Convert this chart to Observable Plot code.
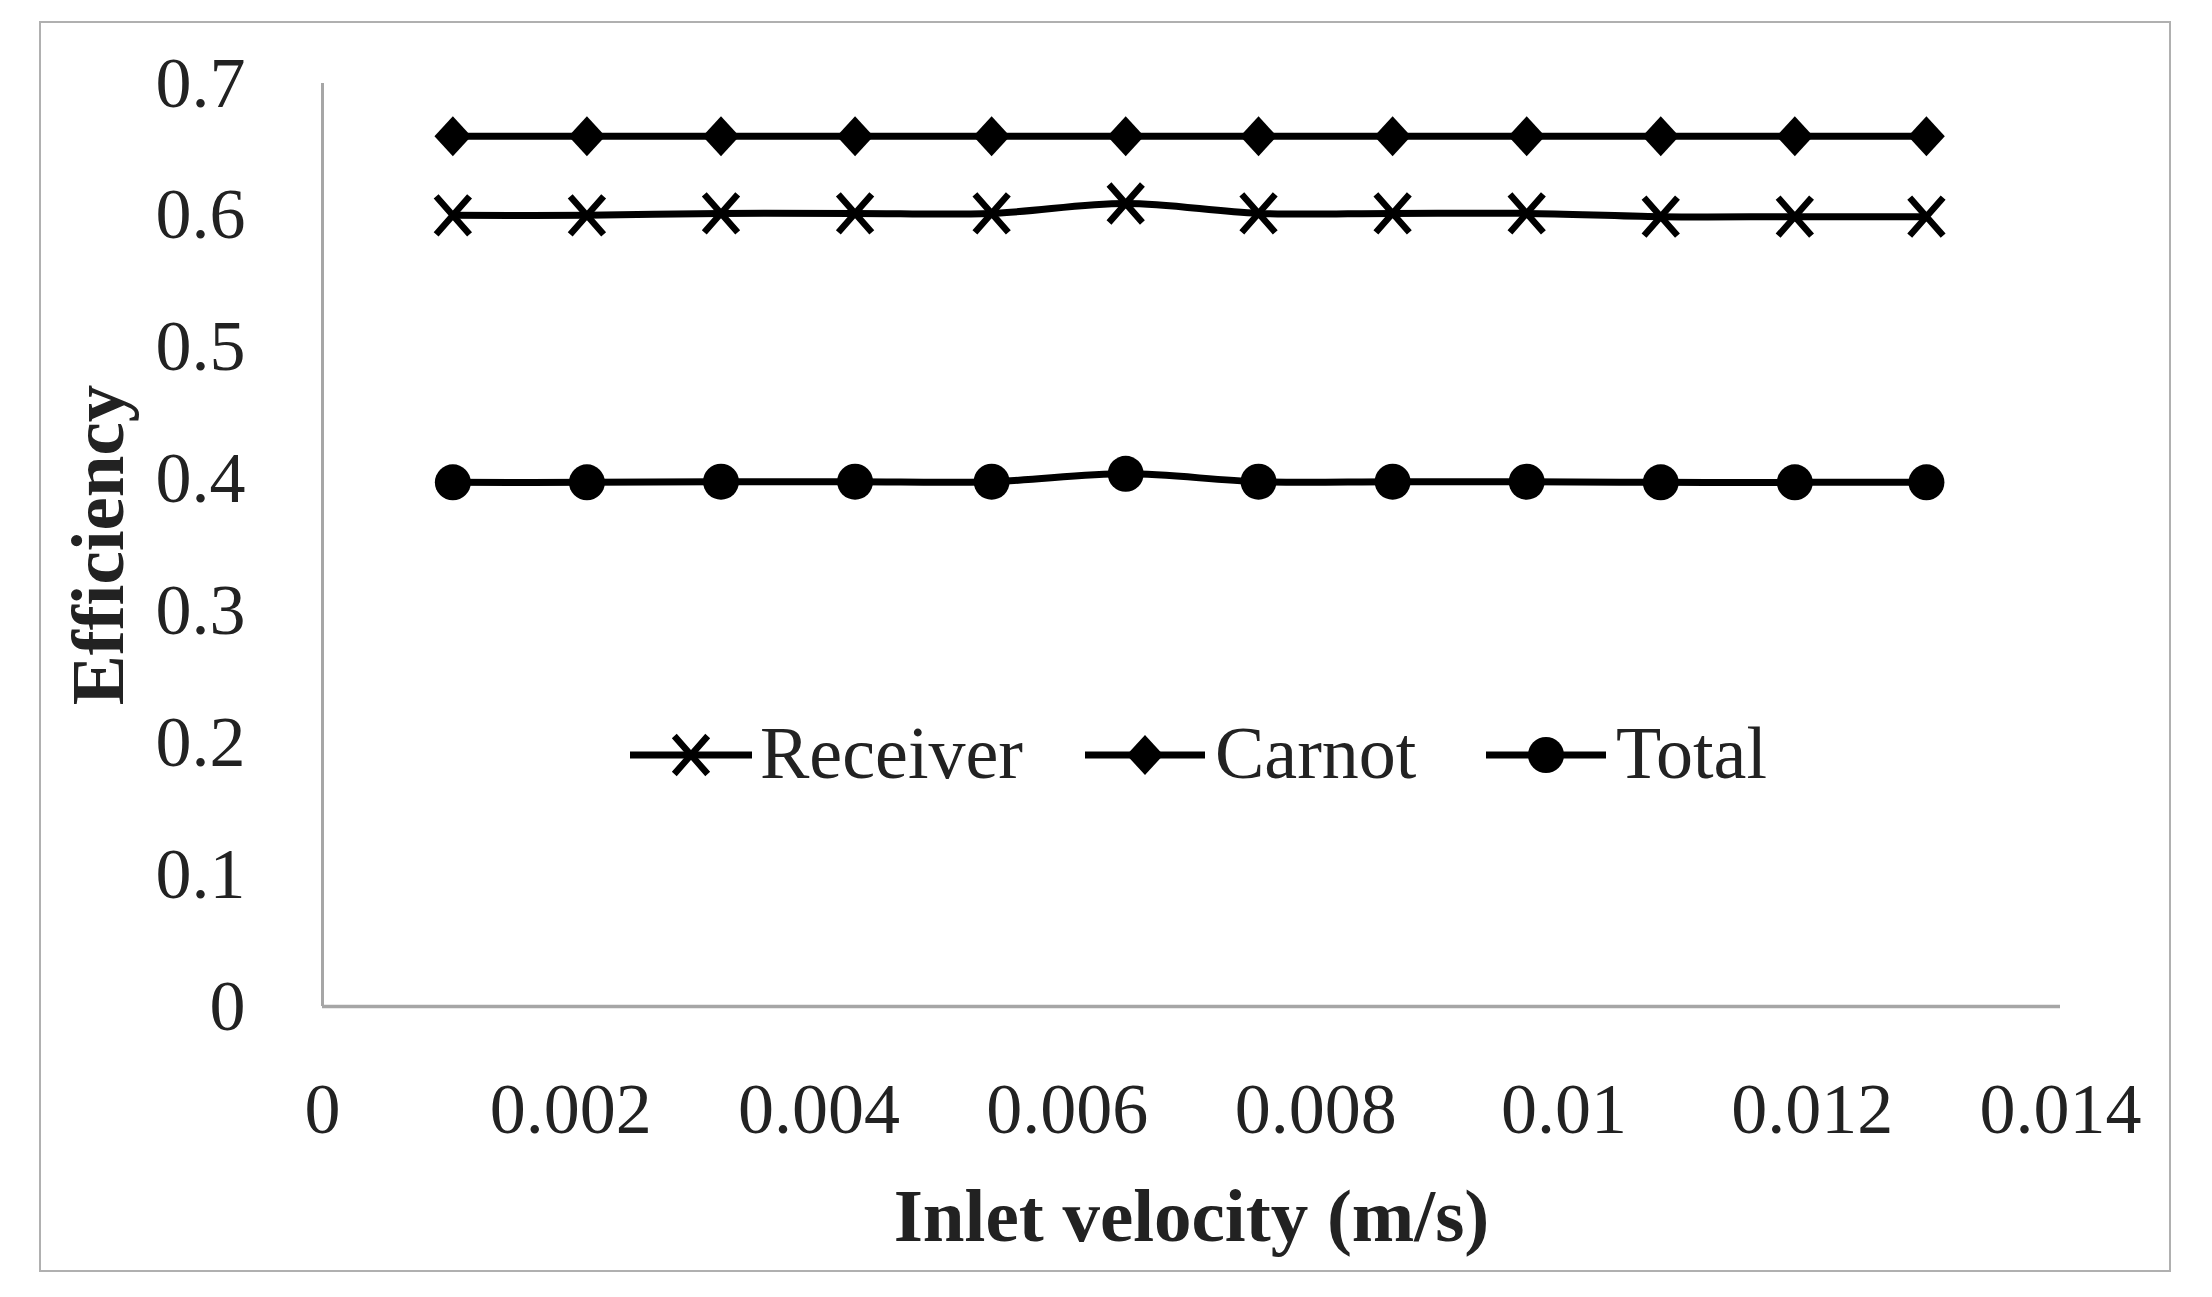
<!DOCTYPE html>
<html><head><meta charset="utf-8">
<script src="https://cdn.jsdelivr.net/npm/d3@7"></script>
<script src="https://cdn.jsdelivr.net/npm/@observablehq/plot@0.6"></script>
<style>
html,body{margin:0;padding:0;background:#fff;}
#wrap{position:relative;width:2212px;height:1297px;overflow:hidden;background:#fff;}
#frame{position:absolute;left:39px;top:21px;width:2128px;height:1247px;border:2px solid #b0b0b0;}
#chart{position:absolute;left:0;top:0;}
#legend{position:absolute;left:0;top:0;}
#chart g[aria-label="x-axis label"] text,#chart g[aria-label="y-axis label"] text{font-weight:700;font-size:75px;}
</style></head><body>
<div id="wrap"><div id="frame"></div><div id="chart"></div><svg id="legend" width="2212" height="1297"></svg></div>
<script>
// ---- data ----
const velocity = [0.00105, 0.00213, 0.00321, 0.00429, 0.00539, 0.00647, 0.00754, 0.00862, 0.0097, 0.01078, 0.01186, 0.01292];
const receiver = [0.600, 0.600, 0.6015, 0.6015, 0.6015, 0.609, 0.6015, 0.6015, 0.6015, 0.599, 0.599, 0.599];
const carnot   = [0.660, 0.660, 0.660, 0.660, 0.660, 0.660, 0.660, 0.660, 0.660, 0.660, 0.660, 0.660];
const total    = [0.3975, 0.3975, 0.398, 0.398, 0.398, 0.404, 0.398, 0.398, 0.398, 0.3975, 0.3975, 0.3975];
const seriesNames = ["Receiver", "Carnot", "Total"];
const xTicks = [0, 0.002, 0.004, 0.006, 0.008, 0.01, 0.012, 0.014];
const xTickLabels = ["0", "0.002", "0.004", "0.006", "0.008", "0.01", "0.012", "0.014"];
const yTicks = [0, 0.1, 0.2, 0.3, 0.4, 0.5, 0.6, 0.7];
const yTickLabels = ["0", "0.1", "0.2", "0.3", "0.4", "0.5", "0.6", "0.7"];
const xTitle = "Inlet velocity (m/s)";
const yTitle = "Efficiency";

// ---- symbols (r = half extent) ----
const R = size => Math.sqrt(size / Math.PI);
const crossSymbol = {draw(ctx, size) { const r = R(size), w = r * 0.88;
  ctx.moveTo(-w, -r); ctx.lineTo(w, r); ctx.moveTo(w, -r); ctx.lineTo(-w, r); }};
const diamondSymbol = {draw(ctx, size) { const r = R(size), w = r * 0.92;
  ctx.moveTo(0, -r); ctx.lineTo(w, 0); ctx.lineTo(0, r); ctx.lineTo(-w, 0); ctx.closePath(); }};
const circleSymbol = {draw(ctx, size) { const r = R(size);
  ctx.moveTo(r, 0); ctx.arc(0, 0, r, 0, 2 * Math.PI); }};
const styles = {
  Receiver: {symbol: crossSymbol, r: 19, fill: "none", stroke: "#000", strokeWidth: 6.5},
  Carnot:   {symbol: diamondSymbol, r: 20, fill: "#000", stroke: "none", strokeWidth: 0},
  Total:    {symbol: circleSymbol, r: 18, fill: "#000", stroke: "none", strokeWidth: 0}
};
const seriesValues = {Receiver: receiver, Carnot: carnot, Total: total};
const rows = seriesNames.flatMap(s => velocity.map((v, i) => ({series: s, x: v, y: seriesValues[s][i]})));

const font = "'Liberation Serif', 'Times New Roman', serif";
const chart = Plot.plot({
  width: 2212, height: 1297,
  marginLeft: 322, marginRight: 152, marginTop: 83, marginBottom: 291,
  style: {fontFamily: font, fontSize: "72px", color: "#222", background: "transparent", overflow: "visible"},
  x: {domain: [0, 0.014]},
  y: {domain: [0, 0.7]},
  marks: [
    Plot.ruleX([0], {stroke: "#a6a6a6", strokeWidth: 3}),
    Plot.ruleY([0], {stroke: "#a6a6a6", strokeWidth: 3.5}),
    Plot.axisX({ticks: xTicks, tickFormat: (d, i) => xTickLabels[i], tickSize: 0, tickPadding: 75,
      label: xTitle, labelAnchor: "center", labelArrow: "none", labelOffset: 234, fill: "#222"}),
    Plot.axisY({ticks: yTicks, tickFormat: (d, i) => yTickLabels[i], tickSize: 0, tickPadding: 77,
      label: yTitle, labelAnchor: "center", labelArrow: "none", labelOffset: 253, fill: "#222"}),
    ...seriesNames.map(s => Plot.line(rows.filter(d => d.series === s),
      {x: "x", y: "y", stroke: "#000", strokeWidth: 7, curve: "catmull-rom"})),
    ...seriesNames.map(s => Plot.dot(rows.filter(d => d.series === s),
      {x: "x", y: "y", symbol: styles[s].symbol, r: styles[s].r, fill: styles[s].fill,
       stroke: styles[s].stroke, strokeWidth: styles[s].strokeWidth}))
  ]
});
document.getElementById("chart").appendChild(chart);

// ---- legend (overlay) ----
const legendItems = [
  {name: "Receiver", x0: 630, x1: 752, tx: 760},
  {name: "Carnot", x0: 1085, x1: 1205, tx: 1215},
  {name: "Total", x0: 1486, x1: 1606, tx: 1616}
];
const lg = d3.select("#legend");
const ly = 755;
legendItems.forEach(it => {
  const st = styles[it.name];
  lg.append("line").attr("x1", it.x0).attr("x2", it.x1).attr("y1", ly).attr("y2", ly)
    .attr("stroke", "#000").attr("stroke-width", 7);
  const size = st.r * st.r * Math.PI;
  lg.append("path").attr("d", d3.symbol(st.symbol, size)())
    .attr("transform", `translate(${(it.x0 + it.x1) / 2},${ly})`)
    .attr("fill", st.fill).attr("stroke", st.stroke).attr("stroke-width", st.strokeWidth);
  lg.append("text").attr("x", it.tx).attr("y", 778).text(it.name)
    .attr("font-family", font).attr("font-size", 74).attr("fill", "#222");
});
</script>
</body></html>
